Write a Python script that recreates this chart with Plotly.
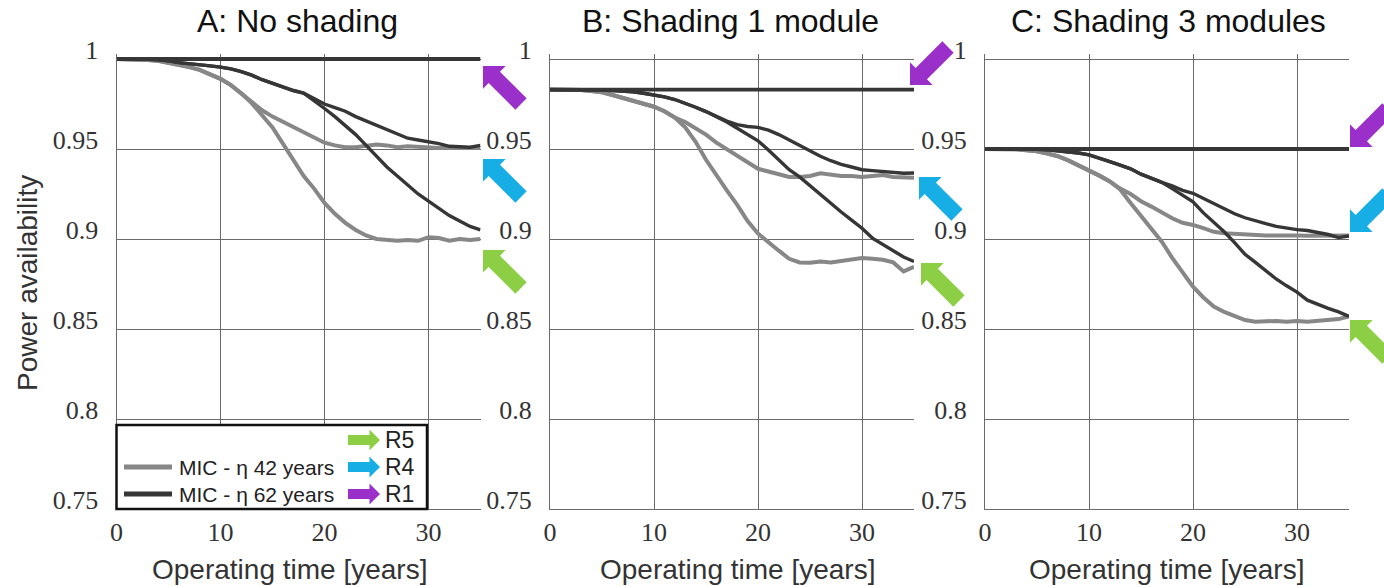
import math
import plotly.graph_objects as go

W, H = 1384, 586

# ---------------------------------------------------------------- data
years = list(range(36))          # operating time [years], 0..35
r1_years = [0, 35]

# A: No shading
a_r1 = [1.0, 1.0]
a_r4_mic42 = [1.0, 1.0, 0.9998, 0.9995, 0.999, 0.998, 0.997, 0.9955, 0.994, 0.9915,
              0.989, 0.9855, 0.981, 0.9765, 0.9715, 0.968, 0.965, 0.962, 0.959, 0.956,
              0.9535, 0.952, 0.951, 0.951, 0.9515, 0.9525, 0.952, 0.951, 0.9515, 0.951,
              0.951, 0.9505, 0.9505, 0.9505, 0.950, 0.9505]
a_r5_mic42 = [1.0, 1.0, 0.9998, 0.9995, 0.999, 0.998, 0.997, 0.9955, 0.994, 0.9915,
              0.989, 0.9855, 0.981, 0.9755, 0.969, 0.962, 0.953, 0.944, 0.935, 0.928,
              0.920, 0.914, 0.909, 0.905, 0.902, 0.900, 0.8995, 0.899, 0.8995, 0.899,
              0.901, 0.9005, 0.899, 0.900, 0.8995, 0.900]
a_r4_mic62 = [1.0, 1.0, 1.0, 0.9998, 0.9995, 0.999, 0.998, 0.9975, 0.997, 0.9962,
              0.9955, 0.9945, 0.993, 0.991, 0.9885, 0.9865, 0.9845, 0.9825, 0.981, 0.978,
              0.975, 0.973, 0.971, 0.968, 0.9655, 0.963, 0.9608, 0.958, 0.956, 0.955,
              0.954, 0.953, 0.9515, 0.9512, 0.951, 0.952]
a_r5_mic62 = [1.0, 1.0, 1.0, 0.9998, 0.9995, 0.999, 0.998, 0.9975, 0.997, 0.9962,
              0.9955, 0.9945, 0.993, 0.991, 0.9885, 0.9865, 0.9845, 0.9825, 0.981, 0.977,
              0.9725, 0.968, 0.963, 0.958, 0.952, 0.946, 0.940, 0.935, 0.930, 0.925,
              0.921, 0.917, 0.913, 0.910, 0.907, 0.905]

# B: Shading 1 module
b_r1 = [0.983, 0.983]
b_r4_mic42 = [0.983, 0.983, 0.983, 0.9828, 0.9822, 0.9815, 0.980, 0.9785, 0.977, 0.9755,
              0.9735, 0.971, 0.9675, 0.965, 0.9615, 0.958, 0.9535, 0.950, 0.9465, 0.9425,
              0.939, 0.9375, 0.936, 0.9345, 0.9345, 0.935, 0.9365, 0.9355, 0.935, 0.935,
              0.9345, 0.935, 0.9355, 0.9345, 0.934, 0.934]
b_r5_mic42 = [0.983, 0.983, 0.983, 0.9828, 0.9822, 0.9815, 0.980, 0.9785, 0.977, 0.9755,
              0.9735, 0.971, 0.9675, 0.962, 0.954, 0.944, 0.935, 0.927, 0.919, 0.910,
              0.903, 0.898, 0.8935, 0.889, 0.887, 0.8868, 0.8875, 0.887, 0.888, 0.8885,
              0.8895, 0.889, 0.8885, 0.887, 0.882, 0.8845]
b_r4_mic62 = [0.983, 0.983, 0.983, 0.983, 0.9829, 0.9828, 0.9825, 0.9822, 0.9818, 0.981,
              0.980, 0.979, 0.9775, 0.9755, 0.9732, 0.9708, 0.968, 0.9655, 0.9635, 0.9625,
              0.962, 0.9605, 0.958, 0.955, 0.952, 0.9485, 0.946, 0.9435, 0.9415, 0.940,
              0.9385, 0.938, 0.9375, 0.937, 0.9365, 0.9367]
b_r5_mic62 = [0.983, 0.983, 0.983, 0.983, 0.9829, 0.9828, 0.9825, 0.9822, 0.9818, 0.981,
              0.980, 0.979, 0.9775, 0.9755, 0.9732, 0.9708, 0.968, 0.965, 0.9615, 0.958,
              0.9545, 0.9495, 0.944, 0.9385, 0.9345, 0.9295, 0.925, 0.920, 0.915, 0.9105,
              0.906, 0.9005, 0.897, 0.893, 0.890, 0.8875]

# C: Shading 3 modules
c_r1 = [0.95, 0.95]
c_r4_mic42 = [0.95, 0.95, 0.95, 0.9498, 0.9493, 0.9487, 0.9475, 0.946, 0.9437, 0.941,
              0.9383, 0.9352, 0.932, 0.928, 0.925, 0.921, 0.918, 0.9145, 0.9115, 0.909,
              0.9078, 0.906, 0.904, 0.9032, 0.9028, 0.9025, 0.9022, 0.902, 0.902, 0.9022,
              0.902, 0.9018, 0.9018, 0.902, 0.9017, 0.902]
c_r5_mic42 = [0.95, 0.95, 0.95, 0.9498, 0.9493, 0.9487, 0.9475, 0.946, 0.9437, 0.941,
              0.9383, 0.9352, 0.932, 0.9275, 0.920, 0.913, 0.906, 0.8985, 0.8895, 0.8815,
              0.8735, 0.8675, 0.8625, 0.8595, 0.857, 0.855, 0.854, 0.8545, 0.8545, 0.854,
              0.8545, 0.854, 0.8545, 0.8548, 0.8555, 0.857]
c_r4_mic62 = [0.95, 0.95, 0.95, 0.95, 0.9499, 0.9498, 0.9495, 0.949, 0.9485, 0.9478,
              0.9467, 0.945, 0.943, 0.941, 0.939, 0.936, 0.9335, 0.9315, 0.9295, 0.927,
              0.9254, 0.9225, 0.9195, 0.9165, 0.914, 0.9118, 0.910, 0.9085, 0.907, 0.906,
              0.9052, 0.9047, 0.9038, 0.9025, 0.9008, 0.9017]
c_r5_mic62 = [0.95, 0.95, 0.95, 0.95, 0.9499, 0.9498, 0.9495, 0.949, 0.9485, 0.9478,
              0.9467, 0.945, 0.943, 0.941, 0.939, 0.936, 0.9335, 0.9315, 0.928, 0.9245,
              0.9207, 0.9145, 0.9095, 0.904, 0.898, 0.8915, 0.887, 0.8825, 0.8778, 0.874,
              0.8705, 0.866, 0.8635, 0.8615, 0.8595, 0.857]

panel_titles = ["A: No shading", "B: Shading 1 module", "C: Shading 3 modules"]
x_ticks = [0, 10, 20, 30]
y_ticks = [0.75, 0.8, 0.85, 0.9, 0.95, 1.0]
y_tick_text = ["0.75", "0.8", "0.85", "0.9", "0.95", "1"]
legend_lines = ["MIC - \u03b7 42 years", "MIC - \u03b7 62 years"]
legend_arrows = ["R5", "R4", "R1"]

panels = [
    (a_r1, a_r4_mic42, a_r5_mic42, a_r4_mic62, a_r5_mic62),
    (b_r1, b_r4_mic42, b_r5_mic42, b_r4_mic62, b_r5_mic62),
    (c_r1, c_r4_mic42, c_r5_mic42, c_r4_mic62, c_r5_mic62),
]

# ---------------------------------------------------------------- style
GRAY = "#878787"
DARK = "#363636"
GRID = "#6a6a6a"
GREEN = "#8ccf45"
BLUE = "#17aee6"
PURPLE = "#9a30c9"
SANS = "Liberation Sans, Arial, sans-serif"
SERIF = "Liberation Serif, Times New Roman, serif"

PANEL_PX = [(116.5, 480.5), (550.0, 914.0), (985.0, 1349.0)]
Y_TOP_PX, Y_BOT_PX = 59.0, 509.0
Y_MIN, Y_MAX = 0.75, 1.003
px_per_unit = (Y_BOT_PX - Y_TOP_PX) / (1.0 - Y_MIN)


def px(x):
    return x / W


def py(y):
    return 1 - y / H


fig = go.Figure()

for i, (r1, r4_42, r5_42, r4_62, r5_62) in enumerate(panels):
    xa = "x" if i == 0 else f"x{i + 1}"
    ya = "y" if i == 0 else f"y{i + 1}"
    for ys in (r4_42, r5_42):
        fig.add_trace(go.Scatter(x=years, y=ys, mode="lines", xaxis=xa, yaxis=ya,
                                 line=dict(color=GRAY, width=4), showlegend=False))
    for ys in (r4_62, r5_62):
        fig.add_trace(go.Scatter(x=years, y=ys, mode="lines", xaxis=xa, yaxis=ya,
                                 line=dict(color=DARK, width=3.4), showlegend=False))
    fig.add_trace(go.Scatter(x=r1_years, y=r1, mode="lines", xaxis=xa, yaxis=ya,
                             line=dict(color=DARK, width=3.8), showlegend=False))

top_px = Y_TOP_PX - (Y_MAX - 1.0) * px_per_unit
layout_axes = {}
for i, (x0, x1) in enumerate(PANEL_PX):
    sfx = "" if i == 0 else str(i + 1)
    layout_axes[f"xaxis{sfx}"] = dict(
        domain=[px(x0), px(x1)], range=[0, 35], anchor=f"y{sfx}", automargin=False,
        tickvals=x_ticks, ticks="", showgrid=True, gridcolor=GRID, gridwidth=1,
        showline=True, linecolor=GRID, linewidth=1.3, zeroline=False,
        tickfont=dict(family=SERIF, size=26, color="#333"), ticklabelstandoff=0,
    )
    layout_axes[f"yaxis{sfx}"] = dict(
        domain=[py(Y_BOT_PX), py(top_px)], range=[Y_MIN, Y_MAX], anchor=f"x{sfx}",
        automargin=False,
        tickvals=y_ticks, ticktext=y_tick_text, ticks="", showgrid=True,
        gridcolor=GRID, gridwidth=1, showline=True, linecolor=GRID, linewidth=1.3,
        zeroline=False, tickfont=dict(family=SERIF, size=26, color="#333"),
        ticklabelstandoff=12, ticklabelshift=-9,
    )

annotations = []
title_cx = [297, 730, 1168]
xtitle_cx = [289, 737, 1166]
for i in range(3):
    annotations.append(dict(text=panel_titles[i], x=px(title_cx[i]), y=py(21),
                            xref="paper", yref="paper", showarrow=False,
                            xanchor="center", yanchor="middle",
                            font=dict(family=SANS, size=32, color="#111")))
    annotations.append(dict(text="Operating time [years]", x=px(xtitle_cx[i]), y=py(569),
                            xref="paper", yref="paper", showarrow=False,
                            xanchor="center", yanchor="middle",
                            font=dict(family=SANS, size=28, color="#333")))
annotations.append(dict(text="Power availability", x=px(27), y=py(283),
                        xref="paper", yref="paper", showarrow=False, textangle=-90,
                        xanchor="center", yanchor="middle",
                        font=dict(family=SANS, size=28, color="#333")))


def block_arrow(tip, tail, head_w, shaft_w, color):
    tx, ty = tip
    bx, by = tail
    dx, dy = tx - bx, ty - by
    length = math.hypot(dx, dy)
    ux, uy = dx / length, dy / length
    nx, ny = -uy, ux
    hl = head_w / 2
    cx, cy = tx - ux * hl, ty - uy * hl
    pts = [
        (tx, ty),
        (cx + nx * head_w / 2, cy + ny * head_w / 2),
        (cx + nx * shaft_w / 2, cy + ny * shaft_w / 2),
        (bx + nx * shaft_w / 2, by + ny * shaft_w / 2),
        (bx - nx * shaft_w / 2, by - ny * shaft_w / 2),
        (cx - nx * shaft_w / 2, cy - ny * shaft_w / 2),
        (cx - nx * head_w / 2, cy - ny * head_w / 2),
    ]
    path = "M " + " L ".join(f"{px(x):.5f},{py(y):.5f}" for x, y in pts) + " Z"
    return dict(type="path", path=path, xref="paper", yref="paper",
                fillcolor=color, line=dict(width=0), layer="above")


shapes = []
# pointer arrows beside each panel (tip, direction of tail)
UL, DL = (38, 38), (38, -38)
pointers = [
    ((483, 66), UL, PURPLE), ((483, 159), UL, BLUE), ((483, 250), UL, GREEN),
    ((910, 85), DL, PURPLE), ((919, 177), UL, BLUE), ((921, 263), UL, GREEN),
    ((1350, 147), DL, PURPLE), ((1350, 232), DL, BLUE), ((1350, 320), UL, GREEN),
]
for tip, d, col in pointers:
    shapes.append(block_arrow(tip, (tip[0] + d[0], tip[1] + d[1]), 32, 16, col))

# legend box in panel A
shapes.append(dict(type="rect", xref="paper", yref="paper",
                   x0=px(116.5), x1=px(427), y0=py(509), y1=py(425),
                   fillcolor="white", line=dict(color="#111", width=2.5), layer="above"))
for yy, col in [(467, GRAY), (494, DARK)]:
    shapes.append(dict(type="line", xref="paper", yref="paper",
                       x0=px(124), x1=px(172), y0=py(yy), y1=py(yy),
                       line=dict(color=col, width=5), layer="above"))
for yy, col in [(440, GREEN), (467, BLUE), (494, PURPLE)]:
    shapes.append(block_arrow((380, yy), (348, yy), 21, 10, col))

for yy, txt in zip([467, 494], legend_lines):
    annotations.append(dict(text=txt, x=px(177), y=py(yy), xref="paper", yref="paper",
                            showarrow=False, xanchor="left", yanchor="middle",
                            font=dict(family=SANS, size=21, color="#222")))
for yy, txt in zip([440, 467, 494], legend_arrows):
    annotations.append(dict(text=txt, x=px(383), y=py(yy), xref="paper", yref="paper",
                            showarrow=False, xanchor="left", yanchor="middle",
                            font=dict(family=SANS, size=23, color="#222")))

fig.update_layout(
    width=W, height=H, margin=dict(l=0, r=0, t=0, b=0, autoexpand=False),
    paper_bgcolor="white", plot_bgcolor="white",
    showlegend=False, annotations=annotations, shapes=shapes,
    **layout_axes,
)

fig.write_html("out.html")
